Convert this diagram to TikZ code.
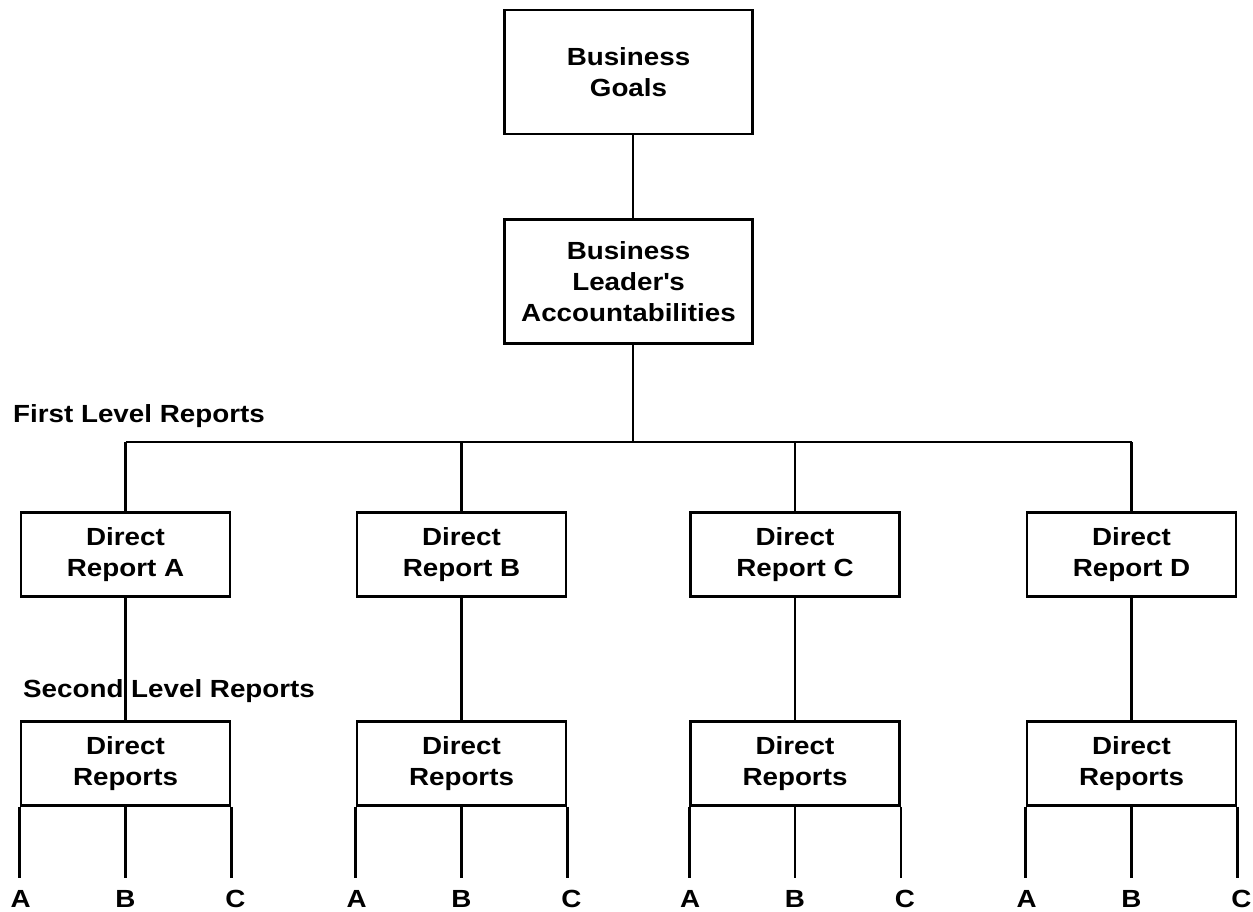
\documentclass[tikz,border=0pt]{standalone}
\usepackage{fontspec}
\usetikzlibrary{calc}
\setmainfont[FakeStretch=1.12]{Liberation Sans}
\newcommand\chartfont{\fontsize{24.8}{31}\selectfont\bfseries}
\begin{document}
\begin{tikzpicture}[x=1pt,y=-1pt,
  box/.style={draw, line width=2.6pt, rectangle, inner sep=0pt, align=center, font=\chartfont},
  bigbox/.style={box, minimum width=248pt, minimum height=124pt},
  repbox/.style={box, minimum width=209pt, minimum height=84pt},
  wire/.style={line width=2.6pt},
  lbl/.style={font=\chartfont, inner sep=0pt}]
\useasboundingbox (0,0) rectangle (1253,911);

% top of the chart
\node[bigbox] (goals)  at (628.5,72)  {Business\\Goals};
\node[bigbox] (leader) at (628.5,281.5) {Business\\Leader\textquotesingle s\\Accountabilities};
\coordinate (bus) at (633,442);

% first level
\node[repbox] (ra) at (125.5,554.5) {Direct\\Report A};
\node[repbox] (rb) at (461.5,554.5) {Direct\\Report B};
\node[repbox] (rc) at (795,554.5)   {Direct\\Report C};
\node[repbox] (rd) at (1131.5,554.5){Direct\\Report D};

% second level
\node[repbox] (sa) at (125.5,763.5) {Direct\\Reports};
\node[repbox] (sb) at (461.5,763.5) {Direct\\Reports};
\node[repbox] (sc) at (795,763.5)   {Direct\\Reports};
\node[repbox] (sd) at (1131.5,763.5){Direct\\Reports};

% level captions
\node[lbl, anchor=base west] (first)  at (13,422) {First Level Reports};

% connectors
\draw[wire] (goals.south -| bus) -- (leader.north -| bus);
\draw[wire] (leader.south -| bus) -- (bus);
\draw[wire] (ra.north |- bus) -- (rd.north |- bus);
\foreach \n in {ra,rb,rc,rd}
  \draw[wire] (\n.north |- bus) -- (\n.north);
\foreach \a/\b in {ra/sa,rb/sb,rc/sc,rd/sd}
  \draw[wire] (\a.south) -- (\b.north);

\node[lbl, anchor=base west] (second) at (23,697) {Second Level Reports};

% third-level legs with their letters
\foreach \n in {sa,sb,sc,sd} {
  \coordinate (\n-foot) at ($(\n.south)+(0,71)$);
  \draw[wire] (\n.south west) -- (\n.south west |- \n-foot);
  \draw[wire] (\n.south) -- (\n-foot);
  \draw[wire] (\n.south east) -- (\n.south east |- \n-foot);
  \node[lbl, anchor=base] (\n-A) at ($(\n.south west |- \n-foot)+(1,30)$) {A};
  \node[lbl, anchor=base] (\n-B) at ($(\n-foot)+(0,30)$) {B};
  \node[lbl, anchor=base] (\n-C) at ($(\n.south east |- \n-foot)+(4,30)$) {C};
}
\end{tikzpicture}
\end{document}
